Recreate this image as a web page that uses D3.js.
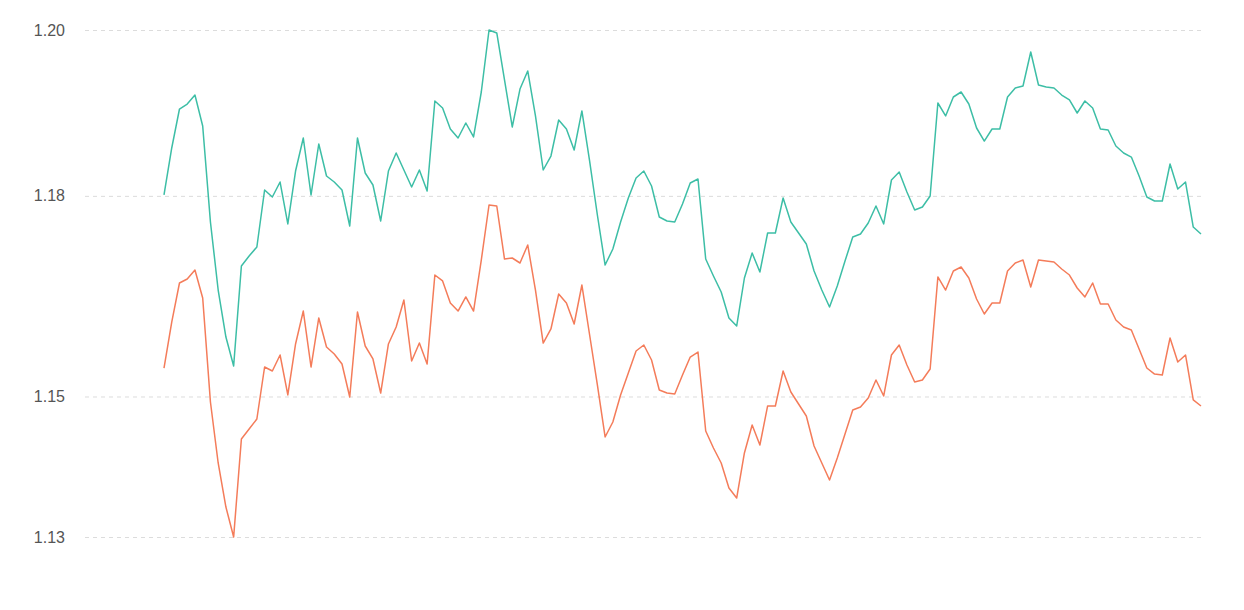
<!DOCTYPE html>
<html>
<head>
<meta charset="utf-8">
<script src="https://cdn.jsdelivr.net/npm/d3@7/dist/d3.min.js"></script>
<style>
  body { margin: 0; background: #fff; }
  #chart text { font-family: "Liberation Sans", Arial, sans-serif; }
</style>
</head>
<body>
<div id="chart"></div>
<script>
      // upper series (teal)
      var upper = [1.17722,1.18371,1.18909,1.18978,1.19102,1.18675,1.17349,1.16410,1.15761,1.15361,
        1.16742,1.16880,1.17004,1.17791,1.17694,1.17901,1.17322,1.18053,1.18509,1.17722,
        1.18426,1.17984,1.17901,1.17791,1.17294,1.18509,1.18026,1.17860,1.17363,1.18053,
        1.18302,1.18067,1.17832,1.18067,1.17777,1.19020,1.18923,1.18633,1.18509,1.18716,
        1.18523,1.19144,1.20000,1.19959,1.19310,1.18661,1.19185,1.19434,1.18813,1.18067,
        1.18260,1.18757,1.18633,1.18343,1.18882,1.18191,1.17446,1.16755,1.16976,1.17349,
        1.17680,1.17957,1.18053,1.17846,1.17418,1.17363,1.17349,1.17598,1.17888,1.17943,
        1.16838,1.16604,1.16383,1.16024,1.15913,1.16576,1.16921,1.16659,1.17197,1.17197,
        1.17680,1.17349,1.17197,1.17045,1.16673,1.16410,1.16176,1.16465,1.16811,1.17142,
        1.17183,1.17335,1.17570,1.17322,1.17929,1.18039,1.17763,1.17515,1.17556,1.17708,
        1.18992,1.18813,1.19075,1.19144,1.18978,1.18647,1.18467,1.18633,1.18633,1.19075,
        1.19199,1.19227,1.19696,1.19241,1.19213,1.19199,1.19102,1.19034,1.18854,1.19020,
        1.18923,1.18633,1.18619,1.18398,1.18302,1.18246,1.17984,1.17694,1.17639,1.17639,
        1.18150,1.17805,1.17901,1.17280,1.17183];

      // lower series (orange)
      var lower = [1.15333,1.15968,1.16507,1.16562,1.16686,1.16300,1.14864,1.14022,1.13414,1.13000,
        1.14353,1.14491,1.14629,1.15347,1.15292,1.15513,1.14961,1.15665,1.16120,1.15347,
        1.16024,1.15623,1.15527,1.15389,1.14933,1.16106,1.15637,1.15458,1.14988,1.15665,
        1.15899,1.16272,1.15430,1.15678,1.15389,1.16617,1.16535,1.16231,1.16120,1.16314,
        1.16120,1.16824,1.17584,1.17570,1.16838,1.16852,1.16783,1.17032,1.16410,1.15678,
        1.15872,1.16355,1.16231,1.15941,1.16479,1.15789,1.15099,1.14381,1.14588,1.14961,
        1.15264,1.15568,1.15651,1.15444,1.15030,1.14988,1.14974,1.15237,1.15485,1.15554,
        1.14464,1.14229,1.14022,1.13677,1.13538,1.14160,1.14546,1.14270,1.14809,1.14809,
        1.15292,1.15002,1.14836,1.14671,1.14256,1.14022,1.13787,1.14091,1.14422,1.14753,
        1.14795,1.14919,1.15168,1.14947,1.15513,1.15651,1.15375,1.15140,1.15168,1.15320,
        1.16590,1.16410,1.16673,1.16728,1.16576,1.16286,1.16079,1.16231,1.16231,1.16673,
        1.16783,1.16824,1.16452,1.16824,1.16811,1.16797,1.16700,1.16617,1.16438,1.16314,
        1.16507,1.16217,1.16217,1.15996,1.15899,1.15858,1.15596,1.15333,1.15250,1.15237,
        1.15748,1.15416,1.15513,1.14892,1.14809];

      // y axis ticks
      var tickValues = [1.13, 1.1494, 1.1771, 1.20];

      var width = 1244;
      var height = 610;
      var seriesColors = ['#3dbea6', '#f47c5a'];

      var svg = d3.select('#chart').append('svg')
          .attr('width', width)
          .attr('height', height);

      var xScale = d3.scaleLinear()
          .domain([0, upper.length - 1])
          .range([164, 1201]);

      var yScale = d3.scaleLinear()
          .domain([1.13, 1.20])
          .range([537, 30]);

      // grid lines + labels
      var yAxis = d3.axisLeft(yScale)
          .tickValues(tickValues)
          .tickFormat(d3.format('.2f'))
          .tickSize(-(1205 - 85))
          .tickPadding(20);

      var gAxis = svg.append('g')
          .attr('transform', 'translate(85, 0)')
          .call(yAxis);
      gAxis.select('.domain').remove();
      gAxis.selectAll('line')
          .attr('stroke', '#dcdcdc')
          .attr('stroke-dasharray', '4,4');
      gAxis.selectAll('text')
          .attr('fill', '#555')
          .style('font-size', '16px');

      var line = d3.line()
          .x((d, i) => xScale(i))
          .y(d => yScale(d));

      [upper, lower].forEach(function (series, k) {
        svg.append('path')
            .datum(series)
            .attr('fill', 'none')
            .attr('stroke', seriesColors[k])
            .attr('stroke-width', 1.5)
            .attr('stroke-linejoin', 'round')
            .attr('d', line);
      });
</script>
</body>
</html>
